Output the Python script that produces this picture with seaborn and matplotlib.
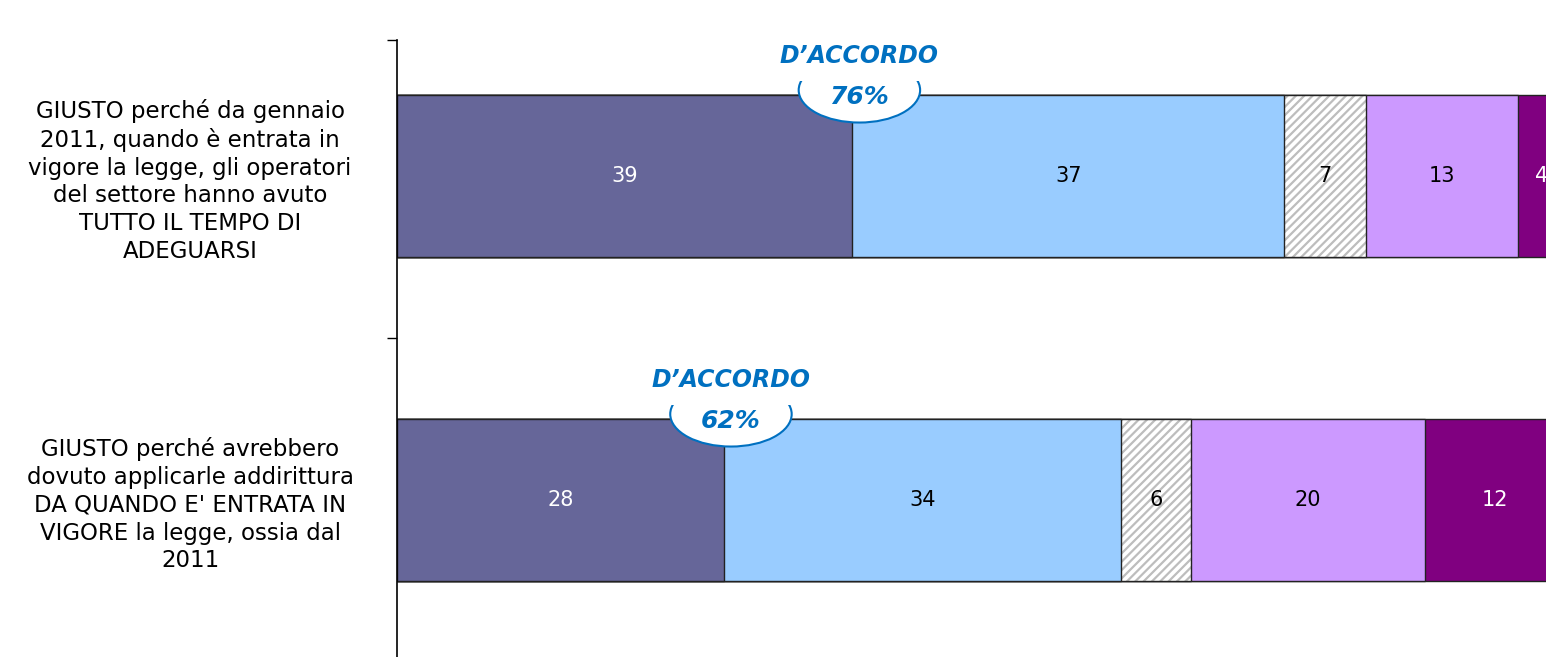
import pandas as pd
import matplotlib
matplotlib.use("Agg")
import matplotlib.pyplot as plt
import matplotlib.colors as mcolors
from matplotlib.patches import Ellipse
import seaborn as sns

# Data
categories = [
    "GIUSTO perché da gennaio\n2011, quando è entrata in\nvigore la legge, gli operatori\ndel settore hanno avuto\nTUTTO IL TEMPO DI\nADEGUARSI",
    "GIUSTO perché avrebbero\ndovuto applicarle addirittura\nDA QUANDO E' ENTRATA IN\nVIGORE la legge, ossia dal\n2011",
]
molto = [39, 28]
abbastanza = [37, 34]
non_sa = [7, 6]
poco = [13, 20]
per_niente = [4, 12]

segments = [molto, abbastanza, non_sa, poco, per_niente]
colors = ["#666699", "#99CCFF", "#FFFFFF", "#CC99FF", "#800080"]
text_colors = ["white", "black", "black", "black", "white"]
hatches = [None, None, "////", None, None]
agree_label = "D\u2019ACCORDO"
blue = "#0070C0"

sns.set_style("white")
plt.rcParams["font.family"] = ["DejaVu Sans"]
plt.rcParams["hatch.linewidth"] = 1.6

df = pd.DataFrame({"cat": categories})
cum = []
running = [0] * len(categories)
for seg in segments:
    running = [r + v for r, v in zip(running, seg)]
    cum.append(list(running))

fig = plt.figure(figsize=(15.46, 6.57), dpi=100)
ax = fig.add_axes([397 / 1546, 0, 1 - 397 / 1546, (657 - 40) / 657])

# stacked bars: draw cumulative totals from the largest down
for k in range(len(segments) - 1, -1, -1):
    df["v"] = cum[k]
    n_before = len(ax.patches)
    sns.barplot(data=df, x="v", y="cat", orient="h", color=colors[k],
                saturation=1, width=0.5, edgecolor="#222222", linewidth=1,
                hatch=hatches[k], ax=ax)
    if hatches[k]:
        for p in ax.patches[n_before:]:
            p._hatch_color = mcolors.to_rgba("#BDBDBD")

# value labels
for i in range(len(categories)):
    left = 0
    for k, seg in enumerate(segments):
        ax.text(left + seg[i] / 2, i, str(seg[i]), ha="center", va="center",
                fontsize=15, color=text_colors[k])
        left += seg[i]

# "D'ACCORDO" callouts
for i in range(len(categories)):
    xc = molto[i] + 0.6
    total = molto[i] + abbastanza[i]
    ax.add_patch(Ellipse((xc, i - 0.265), 10.4, 0.2, facecolor="white",
                         edgecolor=blue, linewidth=1.5, zorder=5))
    ax.text(xc, i - 0.245, f"{total}%", ha="center", va="center", fontsize=18,
            color=blue, fontweight="bold", fontstyle="italic", zorder=7)
    ax.text(xc, i - 0.37, agree_label, ha="center", va="center", fontsize=17,
            color=blue, fontweight="bold", fontstyle="italic", zorder=7,
            bbox=dict(boxstyle="square,pad=0.55", facecolor="white",
                      edgecolor="none"))

ax.set_xlim(0, 98.4)
ax.set_ylim(1 + 157 / 324, -136 / 324)
ax.set_xlabel("")
ax.set_ylabel("")
ax.set_xticks([])
ax.set_yticks([0, 1])
ax.set_yticklabels(categories, ha="center", fontsize=16.5, linespacing=1.26,
                   color="black")
ax.set_yticks([-136 / 324, 0.5], minor=True)
ax.tick_params(axis="y", which="major", length=0, pad=149)
ax.tick_params(axis="y", which="minor", length=7, width=1, color="black",
               direction="out", left=True)
for s in ["top", "right", "bottom"]:
    ax.spines[s].set_visible(False)
ax.spines["left"].set_color("black")
ax.spines["left"].set_linewidth(1.2)

fig.savefig("out.png", dpi=100)
